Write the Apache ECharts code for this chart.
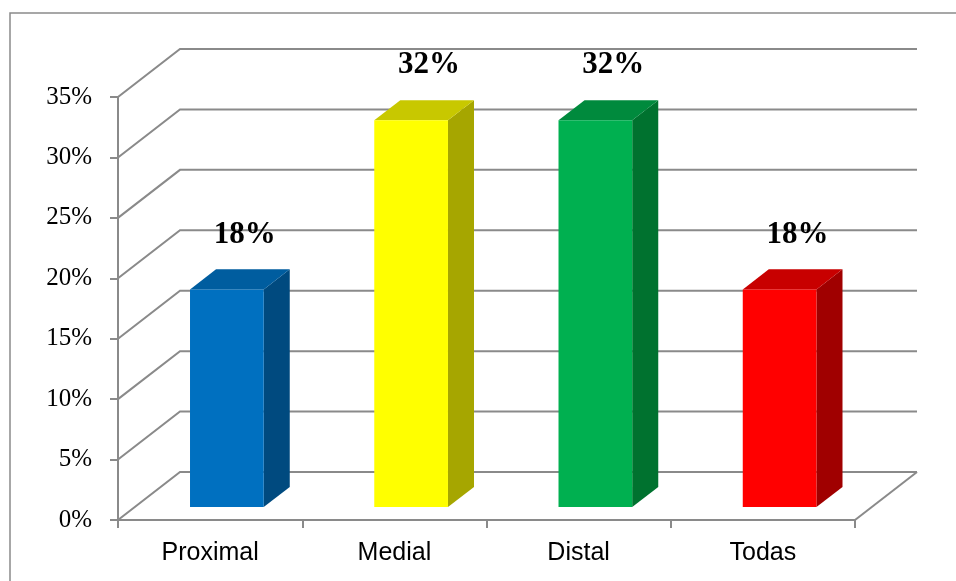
<!DOCTYPE html>
<html>
<head>
<meta charset="utf-8">
<script src="https://cdn.jsdelivr.net/npm/echarts@6/dist/echarts.min.js"></script>
<style>
  html, body { margin: 0; padding: 0; background: #fff; }
  #chart { width: 956px; height: 581px; }
</style>
</head>
<body>
<div id="chart"></div>
<script>
// Share of cases by location
const categories = ['Proximal', 'Medial', 'Distal', 'Todas'];
const shares = [0.18, 0.32, 0.32, 0.18];
const valueLabels = ['18%', '32%', '32%', '18%'];
const tickValues = [0, 0.05, 0.10, 0.15, 0.20, 0.25, 0.30, 0.35];

// Face / side / top shades of each column
const faceColors = ['#0070C0', '#FFFF00', '#00B050', '#FF0000'];
const sideColors = ['#004A7F', '#A6A600', '#00722F', '#A00000'];
const topColors  = ['#005D9F', '#C8C800', '#008A3D', '#C80000'];

// Oblique projection of the chart depth (pixels)
const DEPTH = [62, -48];
const BAR_NEAR = 0.27;   // column front plane, as a share of the depth
const BAR_FAR = 0.69;    // column back plane
const BAR_WIDTH = 0.4;   // share of a category band
const LINE_COLOR = '#8a8a8a';

const chart = echarts.init(document.getElementById('chart'), null, { renderer: 'canvas' });

function wallsItem(params, api) {
  const v = api.value(1);
  const n = categories.length;
  const a = api.coord([0, v]);
  const b = api.coord([n, v]);
  const children = [{
    type: 'polyline',
    shape: { points: [a, [a[0] + DEPTH[0], a[1] + DEPTH[1]], [b[0] + DEPTH[0], b[1] + DEPTH[1]]] },
    style: { stroke: LINE_COLOR, lineWidth: 2, fill: null }
  }];
  if (v === 0) {
    // right edge of the floor
    children.push({
      type: 'line',
      shape: { x1: b[0], y1: b[1], x2: b[0] + DEPTH[0], y2: b[1] + DEPTH[1] },
      style: { stroke: LINE_COLOR, lineWidth: 2 }
    });
  }
  return { type: 'group', children };
}

function columnItem(params, api) {
  const i = api.value(0);
  const v = api.value(1);
  const idx = params.dataIndex;
  const lb = api.coord([i + 0.5 - BAR_WIDTH / 2, 0]);
  const rt = api.coord([i + 0.5 + BAR_WIDTH / 2, v]);
  const L = lb[0], B = lb[1], R = rt[0], T = rt[1];
  const nx = DEPTH[0] * BAR_NEAR, ny = DEPTH[1] * BAR_NEAR;
  const fx = DEPTH[0] * BAR_FAR, fy = DEPTH[1] * BAR_FAR;
  return {
    type: 'group',
    children: [
      {
        type: 'polygon',
        shape: { points: [[R + nx, T + ny], [R + fx, T + fy], [R + fx, B + fy], [R + nx, B + ny]] },
        style: { fill: sideColors[idx] }
      },
      {
        type: 'polygon',
        shape: { points: [[L + nx, T + ny], [L + fx, T + fy], [R + fx, T + fy], [R + nx, T + ny]] },
        style: { fill: topColors[idx] }
      },
      {
        type: 'rect',
        shape: { x: L + nx, y: T + ny, width: R - L, height: B - T },
        style: { fill: faceColors[idx] }
      },
      {
        type: 'text',
        x: (L + R) / 2 + nx + 18,
        y: T + ny - 55,
        style: {
          text: valueLabels[idx],
          fill: '#000',
          font: 'bold 31px "Liberation Serif", "Times New Roman", serif',
          align: 'center',
          verticalAlign: 'middle'
        }
      }
    ]
  };
}

const option = {
  animation: false,
  backgroundColor: '#fff',
  graphic: [{
    type: 'rect',
    shape: { x: 10, y: 13, width: 1000, height: 700 },
    style: { fill: null, stroke: '#8a8a8a', lineWidth: 1.5 },
    silent: true
  }],
  grid: { left: 118, right: 101, top: 97, bottom: 61 },
  xAxis: [
    {
      type: 'category',
      data: categories,
      boundaryGap: true,
      axisLine: { show: true, lineStyle: { color: LINE_COLOR, width: 2 } },
      axisTick: { show: true, length: 8, interval: 0, lineStyle: { color: LINE_COLOR, width: 2 } },
      axisLabel: {
        color: '#000',
        fontFamily: '"Liberation Sans", Arial, sans-serif',
        fontSize: 25,
        margin: 21
      },
      splitLine: { show: false }
    },
    { type: 'value', min: 0, max: categories.length, show: false }
  ],
  yAxis: {
    type: 'value',
    min: 0,
    max: tickValues[tickValues.length - 1],
    interval: tickValues[1] - tickValues[0],
    axisLine: { show: true, lineStyle: { color: LINE_COLOR, width: 2 } },
    axisTick: { show: true, length: 8, lineStyle: { color: LINE_COLOR, width: 2 } },
    axisLabel: {
      color: '#000',
      fontFamily: '"Liberation Serif", "Times New Roman", serif',
      fontSize: 25,
      margin: 26,
      formatter: (v) => Math.round(v * 100) + '%'
    },
    splitLine: { show: false }
  },
  series: [
    {
      type: 'custom',
      name: 'walls',
      xAxisIndex: 1,
      yAxisIndex: 0,
      silent: true,
      z: 1,
      renderItem: wallsItem,
      data: tickValues.map((v) => [0, v])
    },
    {
      type: 'custom',
      name: 'columns',
      xAxisIndex: 1,
      yAxisIndex: 0,
      z: 3,
      renderItem: columnItem,
      data: shares.map((v, i) => [i, v])
    }
  ]
};

chart.setOption(option);
</script>
</body>
</html>
